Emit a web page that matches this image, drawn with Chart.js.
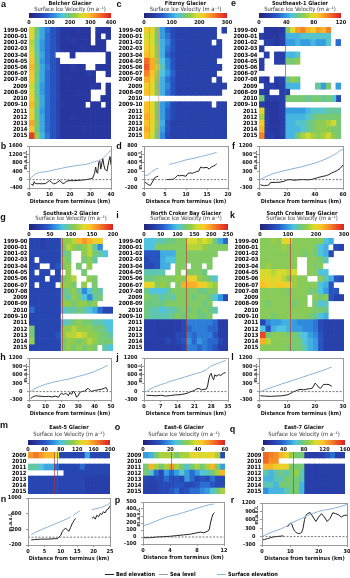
<!DOCTYPE html>
<html>
<head>
<meta charset="utf-8">
<script src="https://cdn.jsdelivr.net/npm/chart.js@4.4.1/dist/chart.umd.min.js"></script>
<style>
    body { margin: 0; background: #fff; }
    #Lienzo { position: relative; width: 350px; height: 578px; overflow: hidden; background: #fff;
              font-family: 'Liberation Sans Narrow', 'DejaVu Sans Condensed', 'Liberation Sans', sans-serif; }
    canvas { position: absolute; }
    .txt { position: absolute; white-space: nowrap; line-height: 1; transform: translate(-50%, -50%); color: #111; }
    .letra { font-family: 'Liberation Sans', Arial, sans-serif; font-weight: bold; font-size: 9px; }
    .titulo { font-weight: bold; font-size: 5.6px; }
    .sub { font-size: 5.8px; color: #333; }
    .masl { font-weight: bold; font-size: 5px; transform: translate(-50%, -50%) rotate(-90deg); }
    .leyenda { position: absolute; top: 571px; font-weight: bold; font-size: 5.6px; line-height: 6px; white-space: nowrap; }
    .leyenda span { display: inline-block; width: 9px; height: 1px; vertical-align: middle; margin-right: 2px; }
</style>
</head>
<body>
<div id="Lienzo"></div>
<script>
const _ = null;

const Filas18 = ['1999-00', '2000-01', '2001-02', '2002-03', '2003-04', '2004-05', '2005-06', '2006-07', '2007-08',
    '2009', '2008-09', '2010', '2009-10', '2011', '2012', '2013', '2014', '2015'];
const Filas7 = ['2009', '2010', '2011', '2012', '2013', '2014', '2015'];

const Glaciares = ['Belcher Glacier', 'Fitzroy Glacier', 'Southeast-1 Glacier', 'Southeast-2 Glacier',
    'North Croker Bay Glacier', 'South Croker Bay Glacier', 'East-5 Glacier', 'East-6 Glacier', 'East-7 Glacier'];
const VelMax = [400, 300, 120, 200, 250, 300, 200, 60, 160];
const VelPaso = [100, 100, 40, 50, 50, 100, 40, 20, 40];
const LineasRojas = [[5.1], [1.0, 2.7], [5.0], [6.2], [8.0], [5.8], [5.1, 5.6], [5.4], [5.8]];

// velocidad superficial (m a-1), una fila por periodo, 16 tramos desde el frente
const VelBelcher = [
    [260, 190, 140, 110, 80, 60, 45, 40, 40, 45, 40, 40, _, 45, 40, 40],
    [270, 180, 140, 100, 80, 60, 40, 45, 40, 40, 40, 40, _, 40, _, 40],
    [240, 170, 130, 100, 80, 55, 40, 40, 45, 40, 40, 40, _, 40, 40, _],
    [250, 170, 130, 100, 80, 60, 40, 40, 40, 40, 45, 40, 40, 40, 40, _],
    [270, 180, 140, 100, 80, _, _, _, 40, _, _, _, _, _, _, 40],
    [290, 190, 130, 100, 80, 60, _, _, _, _, _, _, _, _, _, 40],
    [300, 200, 140, 110, 80, 60, 40, 40, 50, 40, 40, _, _, 40, 40, 40],
    [290, 190, 140, 100, 80, 60, 40, 40, 40, 40, 40, 45, 40, _, _, 40],
    [280, 190, 140, 100, 80, 60, 40, 45, 40, 40, 40, 40, 40, _, _, _],
    [250, 180, 130, 100, 80, 60, 40, 40, 40, 40, 40, 40, 45, 40, _, 40],
    [260, 180, 130, 100, 80, 60, 40, 40, 40, 45, 40, 40, _, _, _, 40],
    [280, 190, 140, 100, 80, 60, 40, 40, 40, 40, 40, 40, _, _, 40, 40],
    [300, 200, 140, 100, 80, 60, 45, 40, 40, 40, 40, _, 40, 40, _, 40],
    [270, 180, 130, 100, 80, 60, 40, 40, 40, 40, 40, 40, 40, 40, 40, 40],
    [280, 190, 140, 100, 80, 60, 40, 40, 45, 40, 40, 40, 40, 40, 40, 40],
    [310, 200, 140, 100, 80, 60, 40, 40, 40, 40, 40, 40, 40, 40, 40, 40],
    [290, 190, 140, 100, 80, 60, 40, 40, 40, 40, 45, 40, 40, 40, 40, 40],
    [380, 220, 150, 110, 80, 60, 40, 40, 40, 40, 40, 40, 40, 40, 40, 40]
];
const VelFitzroy = [
    [210, 200, 150, 100, 70, 50, 40, 40, 40, 40, 40, 40, 40, 40, _, 40],
    [190, 190, 150, 100, 80, 50, 40, 40, 40, 40, 40, 40, 40, 40, _, _],
    [200, 190, 150, 110, 90, 60, 40, 40, 40, 40, 40, 40, 40, _, 40, _],
    [210, 200, 160, 110, 80, 60, 40, 40, 40, 40, 40, 40, 40, 40, 40, _],
    [220, 200, 160, 110, 70, 50, 40, 40, 40, 40, 40, 40, 40, 40, 40, _],
    [260, 230, 170, 120, 90, 60, 40, 40, 40, 40, 40, 40, 40, 40, _, _],
    [270, 230, 180, 130, 90, 60, 40, 40, 40, 40, 40, 40, 40, 40, 40, _],
    [250, 220, 170, 120, 100, 70, 40, 40, 40, 40, 40, 40, 40, 40, _, _],
    [230, 210, 160, 110, 80, 60, 40, 40, 40, 40, 40, 40, 40, _, 40, _],
    [210, 200, 150, 110, 90, 60, 40, 40, 40, 40, 40, 40, 40, 40, 40, 40],
    [220, 200, 160, 110, 80, 60, 40, 40, 40, 40, 40, 40, 40, 40, 40, _],
    [_, _, _, _, _, _, _, _, _, _, _, _, _, _, _, _],
    [220, 200, 150, 100, 80, 50, 40, 40, 40, 40, 40, 40, 40, _, 40, 40],
    [220, 200, 150, 100, 70, 50, 40, 40, 40, 40, 40, 40, 40, 40, 40, 40],
    [230, 210, 150, 100, 70, 50, 40, 40, 40, 40, 40, 40, 40, 40, 40, 40],
    [220, 200, 160, 110, 60, 40, 40, 40, 40, 40, 40, 40, 40, 40, 40, 40],
    [230, 200, 150, 100, 60, 40, 40, 40, 40, 40, 40, 40, 40, 40, 40, 40],
    [220, 190, 140, 90, 50, 40, 40, 40, 40, 40, 40, 40, 40, 40, 40, 40]
];
const VelSureste1 = [
    [_, 12, 12, 12, 12, 60, 80, 95, 100, 90, 85, 95, 90, 100, _, _],
    [15, 12, 12, 12, 15, 45, 45, 45, 50, 50, 50, 50, 50, 50, _, _],
    [_, 15, 15, 12, 15, 40, 40, 45, 40, 40, 45, 40, 40, 50, _, 30],
    [15, _, _, _, _, _, _, _, _, _, _, _, _, _, _, _],
    [_, 15, _, 15, 15, 45, 45, 50, _, _, _, _, _, _, _, _],
    [15, _, _, 15, 15, 60, 60, 65, _, _, _, _, _, _, _, _],
    [15, _, _, _, _, _, _, _, _, _, _, _, _, _, _, _],
    [_, _, _, _, _, _, _, _, _, _, _, _, _, _, _, _],
    [15, 12, _, 15, 15, 55, 65, 60, _, _, _, _, _, _, _, _],
    [_, 15, 15, 12, 15, 45, 45, 45, _, _, _, 55, 40, 60, _, 40],
    [15, 12, _, _, 15, 15, _, _, _, _, _, _, _, _, _, _],
    [60, 15, 15, 15, 15, 60, 60, 60, 60, 55, 60, 60, 55, 60, 50, 20],
    [15, 12, 12, 12, 15, _, _, _, _, _, _, _, _, _, _, _],
    [80, 15, 12, 12, 15, 40, 40, 40, 40, 45, 50, 50, 50, 55, 55, 55],
    [70, 15, 12, 12, 15, 45, 45, 45, 45, 50, 55, 60, 60, 60, 60, 60],
    [85, 15, 12, 12, 15, 45, 45, 50, 50, 55, 60, 65, 65, 70, 75, 60],
    [90, 15, 12, 12, 15, 45, 45, 45, 50, 55, 60, 65, 65, 65, 60, 60],
    [100, 15, 15, 12, 15, 45, 45, 60, 70, 75, 70, 65, 70, 75, 65, 60]
];
const VelSureste2 = [
    [30, 30, 25, 30, 30, 30, 110, 110, 120, 150, 160, 150, 140, 140, _, _],
    [30, 30, 25, 30, 30, 30, 100, 120, 110, 100, 110, 120, 90, 60, _, _],
    [30, 30, 30, 30, 30, 30, 90, 100, _, _, 110, 120, 100, 90, 80, _],
    [30, _, 30, 30, 30, 30, 110, 100, _, _, 100, 110, 90, _, _, _],
    [30, 30, _, _, 30, 40, 100, 110, _, 100, _, 110, _, _, _, _],
    [30, _, 30, 30, _, 30, _, 110, _, _, 100, _, _, _, _, _],
    [30, 30, 30, _, 30, 30, 100, 110, 120, _, _, 110, 100, _, _, _],
    [30, _, 30, 30, 30, _, 110, 110, 100, _, 110, _, 100, _, _, _],
    [30, 30, 30, 30, 30, 30, 90, 100, 110, 90, 60, 80, 100, 90, _, _],
    [30, 30, 30, 30, 30, 30, 100, 90, 110, 100, 80, 60, 90, 100, _, _],
    [30, 30, 30, 30, 30, 30, 110, 110, 100, 110, 110, 100, 110, _, _, _],
    [50, 30, 30, 30, 30, 30, 80, 90, 90, 100, 90, 80, 70, 50, 30, 30],
    [30, 30, 30, 30, 30, 30, _, _, _, _, _, _, _, _, _, _],
    [30, 30, 30, 30, 30, 30, 80, 90, 100, 110, 100, 100, 90, 90, 80, 80],
    [100, 30, 30, 30, 30, 30, 110, 110, 120, 110, 110, 110, 100, 100, 90, 80],
    [100, 30, 30, 30, 30, 40, 110, 120, 120, 130, 120, 110, 110, 100, 100, 90],
    [110, 30, 30, 30, 30, 30, 100, 110, 110, 100, 110, 120, 110, 100, 100, 100],
    [30, 30, 30, 30, 30, 30, 100, 110, 100, 110, 100, 110, 100, _, 90, 80]
];
const VelNorteCroker = [
    [100, 100, 110, 110, 120, 120, 130, 130, 160, 160, 150, 160, 150, 120, 90, 60],
    [100, 100, 130, 130, 130, 130, 130, 130, 150, 150, 150, 140, 130, 130, 130, 130],
    [50, 50, 50, 90, 90, 90, 130, 130, 130, 130, 130, 130, 130, 130, _, _],
    [40, 50, 50, 90, 100, 100, 130, 130, 130, 130, 130, 130, 130, _, _, _],
    [40, 40, 50, 90, 90, _, 130, 130, _, 130, 130, _, 130, _, _, _],
    [110, 110, 110, 110, _, _, 130, _, 130, 130, 130, 120, _, _, _, _],
    [120, 120, 130, 130, 130, 130, 140, 130, 170, 170, 140, 130, 120, 100, _, _],
    [170, 160, 130, 140, 130, _, 130, 190, 190, 190, 180, 170, 150, 140, _, _],
    [120, 100, 100, 100, 110, 130, 130, 130, 130, 130, 120, 120, 130, 130, _, _],
    [130, 120, 120, 110, 120, 110, 130, 130, 130, 120, 130, 130, 120, 100, 80, 40],
    [120, 120, 120, 120, 130, 130, 130, 130, 130, 130, 130, 120, 130, _, _, _],
    [120, 110, 110, 100, 110, 110, 120, 130, 120, 130, 120, 130, 120, 110, _, _],
    [120, 110, 110, 110, 110, 120, 130, 120, 130, 130, 120, 120, 130, _, _, _],
    [30, 30, 30, 30, 30, 30, 30, 40, 70, 70, 70, 70, 70, 60, 30, 30],
    [30, 30, 30, 30, 30, 30, 30, 40, 60, 70, 70, 70, 60, 60, 30, 30],
    [30, 30, 30, 30, 30, 30, 40, 40, 70, 60, 70, 70, 70, 50, 30, 30],
    [30, 30, 30, 30, 40, 30, 40, 50, 80, 60, 80, 70, 60, 60, 40, 30],
    [30, 30, 30, 30, 30, 30, 30, 40, 70, 70, 60, 70, 60, 50, 30, 30]
];
const VelSurCroker = [
    [160, 160, 170, 160, 200, 200, 160, 160, 160, 160, 160, 160, 120, 110, _, _],
    [160, 160, 160, 160, 170, 160, 160, 160, 160, 160, 150, 120, 110, _, 50, 40],
    [160, 160, 160, 160, 160, 160, 160, 160, 150, 160, 150, 120, 110, 50, _, _],
    [160, 160, 160, 160, 160, 160, 160, _, _, 160, 160, 150, 130, _, _, _],
    [160, 170, 160, 160, 160, 160, 160, _, _, 160, 150, 160, _, _, _, _],
    [190, 190, 180, 190, 190, 180, 190, _, _, 160, 160, 120, 120, _, _, _],
    [200, 200, 190, 200, 180, 160, 170, 160, 160, _, _, 160, 130, 110, 60, 50],
    [220, 210, 200, 210, 210, 200, 170, 160, 160, 160, 160, 120, 110, 60, _, _],
    [160, 160, 160, 160, 160, 150, 160, 160, 160, 150, 150, 120, 100, 60, 60, _],
    [160, 160, 160, 160, 160, 160, 160, 160, 160, _, 160, 150, 160, 60, 40, 40],
    [160, 150, 160, 160, 160, 160, 150, 160, 160, _, 150, 120, 130, _, _, _],
    [160, 160, 160, 160, 160, 160, 160, 160, 160, 160, 150, 150, 140, _, _, _],
    [160, 160, 150, 160, 160, 160, 160, 160, 160, 150, 140, 120, 110, _, _, _],
    [50, 90, 100, 100, 110, 110, 100, 90, 90, 90, 80, 50, 40, 40, 40, 40],
    [120, 60, 110, 120, 120, 110, 100, 100, 90, 90, 80, 50, 40, 40, 40, 40],
    [280, 150, 160, 160, 160, 150, 150, 130, 120, 100, 90, 60, 40, 40, 40, 40],
    [230, 180, 160, 160, 160, 160, 150, 150, 120, 110, 100, 60, 40, 40, 40, 40],
    [160, 160, 160, 160, 160, 150, 150, 150, 130, 110, 100, 60, 40, 40, 40, 40]
];
const VelEste5 = [
    [160, 170, 160, 150, 150, 130, 30, 30, 30, 30, 30, 70, 30, 30, 30, 30],
    [_, _, _, _, _, _, _, _, _, _, _, _, _, _, _, _],
    [90, 90, 80, 70, 70, 50, 30, 30, 30, 30, 50, 30, 30, 30, 30, 30],
    [_, _, _, _, _, _, _, 30, 30, 30, 30, 30, 30, 30, 30, 30],
    [30, 30, 30, 30, 30, 30, 30, 30, 30, 30, 30, 25, 25, 25, 25, 25],
    [30, 30, 30, 30, 30, 30, 30, 30, 30, 30, 30, 25, 25, 25, 25, 25],
    [30, 30, 30, 30, 30, 30, 30, 30, 30, 30, 30, 25, 25, 25, 25, 25]
];
const VelEste6 = [
    [20, 22, 30, 35, 35, 35, 30, 35, 35, 40, 40, 38, 40, 40, 35, 10],
    [_, _, _, _, _, _, _, _, _, _, _, _, _, _, _, _],
    [30, 45, 35, 30, 35, 48, 35, 30, 25, 30, 35, 30, 35, 45, 30, 20],
    [30, 25, 15, 10, 20, 15, 20, 25, 20, 15, 20, 25, 25, 30, 35, 45],
    [10, 8, 10, 10, 15, 10, 12, 10, 20, 15, 10, 12, 10, 15, 10, 10],
    [8, 8, 8, 10, 10, 10, 12, 12, 10, 10, 12, 15, 15, 12, 10, 10],
    [8, 8, 8, 10, 10, 12, 15, 10, 12, 15, 15, 18, 20, 25, 30, 35]
];
const VelEste7 = [
    [140, 135, 130, 120, 110, 90, 80, 80, 20, 20, 20, 20, 30, 40, 20, 20],
    [140, 130, 130, _, _, _, _, _, _, _, _, _, _, _, _, _],
    [120, 120, 110, 110, 110, 80, 80, 80, 20, 20, 20, 20, 20, 20, 20, 20],
    [70, 60, 70, 80, 70, 80, 90, 70, 20, 20, 20, 20, 20, 20, 20, 20],
    [60, 60, 70, 70, 80, 80, 80, 70, 20, 20, 20, 20, 20, 20, 20, 20],
    [70, 70, 60, 80, 80, 80, 80, 60, 20, 20, 20, 20, 20, 20, 20, 20],
    [50, 60, 60, 60, 70, 80, 80, 60, 20, 20, 20, 20, 20, 20, 20, 20]
];

// perfiles: distancia desde el frente (km) y elevacion (m s.n.m.)
const DistSupB = [0, 1, 2, 3, 4, 5, 6, 7, 8, 10, 12, 14, 16, 18, 20, 22, 24, 26, 28, 30, 31, 32, 33, 34, 35, 36, 37, 38, 39, 40];
const ElevSupB = [0, 80, 180, 260, 300, 330, 350, 360, 380, 410, 460, 500, 540, 580, 620, 650, 680, 700, 730, 780, 820, 850, 880, 900, 950, 1000, 1100, 1200, 1300, 1420];
const DistLechoB = [1, 1.5, 2, 2.5, 3, 4, 5, 6, 8, 9, 10, 11, 12, 13, 14, 15, 16, 17, 18, 19, 20, 22, 24, 26, 28, 30, 31, 32, 32.5, 33, 33.5, 34, 34.5, 35, 36, 36.5, 37, 38, 39, 39.5, 40];
const ElevLechoB = [-200, -250, -270, -100, -180, -200, -190, -200, -190, -120, -40, -130, -200, -180, -120, -40, -150, -200, -90, -60, -50, -50, -40, -20, 0, 40, 60, 300, 600, 350, 300, 800, 900, 500, 1000, 700, 500, 400, 900, 1100, 700];

const DistSupD = [0, 0.5, 1, 1.5, 2, 2.5, 3, 3.4, 4.5, 6, 8, 10, 12, 14, 16, 17.3];
const ElevSupD = [100, 100, 110, 150, 200, 230, 260, 270, _, 360, 410, 470, 510, 560, 610, 650];
const DistLechoD = [0, 0.5, 1, 1.5, 2, 2.5, 3, 3.4, 4.5, 5.5, 6.5, 7, 7.5, 8, 8.5, 9, 10, 10.5, 11, 11.5, 12, 12.5, 13, 13.5, 14, 15, 15.5, 16, 16.5, 17, 17.3];
const ElevLechoD = [-50, -80, -120, -140, -60, 40, 70, 80, _, 0, 5, 10, 50, 100, 90, 100, 80, 150, 160, 150, 170, 190, 200, 300, 280, 290, 250, 300, 320, 350, 370];

const DistSupF = [1, 3, 5, 8, 10, 15, 20, 25, 30, 35, 40, 45, 50, 53, 56, 58, 60];
const ElevSupF = [0, 60, 110, 170, 210, 280, 340, 400, 450, 520, 590, 680, 790, 870, 960, 1040, 1080];
const DistLechoF = [1, 2, 3, 4, 5, 6, 7, 8, 10, 12, 15, 18, 20, 22, 25, 28, 30, 32, 35, 38, 40, 42, 45, 48, 50, 52, 54, 56, 58, 60];
const ElevLechoF = [-180, -200, -210, -220, -200, -210, -190, -110, -100, -100, -90, -60, -10, 0, -20, -10, 0, 0, -10, 10, 40, 70, 110, 140, 180, 240, 280, 330, 400, 520];

const DistSupH = [1, 3, 5, 10, 15, 20, 25, 30, 35, 40, 45, 48];
const ElevSupH = [0, 90, 150, 260, 340, 400, 460, 540, 620, 720, 850, 940];
const DistLechoH = [1, 2, 4, 6, 8, 10, 12, 14, 16, 18, 19, 20, 21, 22, 23, 24, 25, 26, 27, 28, 29, 30, 31, 32, 34, 36, 37, 38, 40, 42, 44, 46, 47, 48];
const ElevLechoH = [-250, -200, -150, -160, -170, -180, -170, -190, -160, -200, -100, -50, -120, -60, -80, -150, -30, -100, 20, -50, -200, -150, -30, 0, 20, 120, 60, 0, 40, 60, 80, 120, 150, 30];

const DistSupJ = [1, 2, 4, 7, 9, 11, 14, 17, 20, 22, 24, 26, 28, 30, 32, 34];
const ElevSupJ = [0, 60, 150, 250, 300, 370, 440, 520, 600, 650, 700, 780, 920, 980, 1050, 1110];
const DistLechoJ = [1, 3, 5, 7, 9, 11, 13, 15, 17, 18, 19, 20, 21, 22, 23, 24, 25, 26, 26.5, 27, 27.5, 28, 28.5, 29, 29.5, 30, 31, 32, 33, 34];
const ElevLechoJ = [-130, -140, -150, -130, -160, -140, -120, -110, -80, -60, -20, 10, 40, 100, 110, 60, 80, 90, 200, 450, 600, 650, 500, 420, 600, 550, 600, 580, 650, 680];

const DistSupL = [0.5, 2, 4, 6, 8, 10, 12, 14, 16, 18, 20, 22, 24, 26];
const ElevSupL = [0, 60, 130, 200, 270, 330, 400, 460, 530, 600, 660, 730, 800, 880];
const DistLechoL = [0.5, 2, 4, 6, 8, 10, 11, 12, 13, 14, 15, 16, 17, 18, 19, 19.5, 20, 20.5, 21, 21.5, 22, 23, 24, 25, 26];
const ElevLechoL = [-150, -160, -170, -160, -150, -120, -80, -20, 20, 60, 80, 60, 90, 100, 120, 200, 300, 260, 200, 130, 120, 250, 260, 250, 190];

const DistSupN = [1, 2, 4, 6, 8, 10, 12, 13, 13.4, 13.8, 14.5, 15.2, 15.8, 17, 19.5, 20.5, 21.5, 22.5, 23.5, 24.3, 25];
const ElevSupN = [60, 110, 190, 260, 330, 400, 470, 520, _, 560, 600, 640, 670, _, 700, 720, 740, 760, 800, 830, 880];
const DistLechoN = [1, 2, 4, 6, 8, 9, 10, 10.5, 11, 11.5, 12, 12.5, 13, 13.5, 14, 14.5, 17, 19.5, 20, 20.5, 21, 21.5, 22, 22.5, 23, 23.5, 24, 24.5, 25];
const ElevLechoN = [-70, -60, -50, -50, -40, -40, 50, 150, 200, 230, 180, 150, 250, 350, 420, 480, _, 480, 520, 460, 560, 520, 600, 580, 650, 620, 700, 720, 800];

const DistSupP = [0, 1, 2, 3, 4, 5, 6, 7, 8, 9, 10, 10.5];
const ElevSupP = [160, 190, 230, 270, 300, 320, 350, 380, 410, 440, 465, 470];
const DistLechoP = [0, 1, 2, 3, 4, 5, 6, 7, 8, 8.5, 9, 9.5, 9.8, 10, 10.2, 10.4, 10.6];
const ElevLechoP = [-10, -10, 0, 5, 10, 20, 30, 40, 60, 70, 60, 80, 100, 200, 280, 330, 350];

const DistSupR = [0, 2, 4, 6, 7, 8, 9, 10, 12, 14, 16, 18, 20, 22, 24, 26, 28, 30];
const ElevSupR = [0, 100, 180, 250, 290, 340, 400, 470, 560, 650, 750, 830, 900, 950, 980, 1030, 1080, 1150];
const DistLechoR = [0, 1, 2, 3, 4, 5, 6, 7, 7.5, 8.2, 9, 9.5, 10, 10.5, 11, 11.5, 12, 12.5, 13, 13.5, 14, 14.5, 15, 15.5, 16, 17, 18, 19, 20, 21, 22, 23, 24, 25, 26, 27, 28, 29, 30];
const ElevLechoR = [-120, -100, -70, -40, -10, 0, 10, 20, 30, _, 350, 420, 480, 450, 300, 200, 150, 120, 110, 120, 150, 300, 600, 750, 820, 860, 700, 540, 700, 820, 700, 540, 650, 850, 820, 780, 700, 760, 760];

const EjeXPerfil = [[0, 40, 10], [0, 20, 5], [0, 60, 20], [0, 50, 10], [0, 35, 7], [0, 30, 10], [0, 25, 5], [0, 12, 4], [0, 30, 10]];
const EjeYPerfil = [[-400, 1600, 400], [-200, 800, 200], [-300, 1200, 300], [-300, 1200, 300], [-300, 1200, 300],
    [-300, 1200, 300], [-200, 1000, 400], [-100, 500, 100], [-300, 1200, 300]];

const Velocidades = [VelBelcher, VelFitzroy, VelSureste1, VelSureste2, VelNorteCroker, VelSurCroker, VelEste5, VelEste6, VelEste7];
const Perfiles = [
    [DistSupB, ElevSupB, DistLechoB, ElevLechoB], [DistSupD, ElevSupD, DistLechoD, ElevLechoD],
    [DistSupF, ElevSupF, DistLechoF, ElevLechoF], [DistSupH, ElevSupH, DistLechoH, ElevLechoH],
    [DistSupJ, ElevSupJ, DistLechoJ, ElevLechoJ], [DistSupL, ElevSupL, DistLechoL, ElevLechoL],
    [DistSupN, ElevSupN, DistLechoN, ElevLechoN], [DistSupP, ElevSupP, DistLechoP, ElevLechoP],
    [DistSupR, ElevSupR, DistLechoR, ElevLechoR]
];

// posiciones en la figura (px)
const Renglones = [
    { tit: 3.8, sub: 10.4, barraY: 13, barraH: 5, mapaY: 27, mapaH: 112 },
    { tit: 214.3, sub: 219.3, barraY: 224, barraH: 6, mapaY: 238, mapaH: 113 },
    { tit: 428.3, sub: 435, barraY: 440, barraH: 5, mapaY: 452, mapaH: 42 }
];
const Posiciones = [
    { mx: 29, mw: 82, px: 29, py: 146, pw: 82, ph: 42, l1: ['a', 3.5, 4], l2: ['b', 3.5, 145.5], masl: [24.5, 160] },
    { mx: 144, mw: 83, px: 144, py: 146, pw: 84, ph: 42, l1: ['c', 119, 4], l2: ['d', 119, 145.5], masl: [139.5, 160] },
    { mx: 259, mw: 82, px: 259, py: 146, pw: 84, ph: 42, l1: ['e', 233.5, 3], l2: ['f', 233.5, 145.5], masl: [254.5, 160] },
    { mx: 29, mw: 84, px: 29, py: 358, pw: 82, ph: 42, l1: ['g', 3, 217], l2: ['h', 3, 357], masl: [24.5, 372.5] },
    { mx: 144, mw: 84, px: 144, py: 358, pw: 84, ph: 42, l1: ['i', 117.5, 214.5], l2: ['j', 117.5, 356.5], masl: [139.5, 372.5] },
    { mx: 260, mw: 84, px: 259, py: 358, pw: 84, ph: 42, l1: ['k', 232.5, 215], l2: ['l', 232.5, 356.5], masl: [254.5, 372.5] },
    { mx: 28, mw: 82, px: 28, py: 498, pw: 82, ph: 47, l1: ['m', 4, 425], l2: ['n', 3.5, 498.5], masl: [10, 522] },
    { mx: 143, mw: 82, px: 143, py: 502, pw: 81, ph: 42, l1: ['o', 117.5, 427], l2: ['p', 117.5, 499.5], masl: [138, 517] },
    { mx: 263, mw: 82, px: 262, py: 503, pw: 85, ph: 42, l1: ['q', 232.5, 428.5], l2: ['r', 232.5, 499.5], masl: [255.5, 515] }
];

const Fam = "'Liberation Sans Narrow', 'DejaVu Sans Condensed', 'Liberation Sans', sans-serif";
Chart.defaults.font.family = Fam;
const FuenteEje = { family: Fam, size: 5.5, weight: 'bold' };
const FuenteAnio = { family: Fam, size: 5.8, weight: 'bold' };

const PasosJet = [
    [0.00, [32, 36, 120]], [0.10, [40, 55, 160]], [0.22, [40, 90, 200]], [0.32, [50, 150, 225]],
    [0.40, [80, 195, 225]], [0.48, [110, 200, 130]], [0.56, [150, 205, 70]], [0.64, [215, 220, 45]],
    [0.72, [250, 200, 40]], [0.82, [245, 140, 40]], [0.92, [235, 75, 40]], [1.00, [215, 35, 40]]
];

const ColorJet = (f) => {
    f = Math.max(0, Math.min(1, f));
    for (let k = 1; k < PasosJet.length; k++) {
        if (f <= PasosJet[k][0]) {
            const a = PasosJet[k - 1], b = PasosJet[k];
            const t = (f - a[0]) / (b[0] - a[0]);
            const c = a[1].map((v, j) => Math.round(v + (b[1][j] - v) * t));
            return 'rgb(' + c.join(',') + ')';
        }
    }
    return 'rgb(215,35,40)';
};

const Lienzo = document.getElementById('Lienzo');

const NuevoCanvas = (x, y, w, h) => {
    const c = document.createElement('canvas');
    c.width = w; c.height = h;
    c.style.left = x + 'px'; c.style.top = y + 'px';
    c.style.width = w + 'px'; c.style.height = h + 'px';
    Lienzo.appendChild(c);
    return c;
};

const Texto = (txt, x, y, cls) => {
    const d = document.createElement('div');
    d.className = 'txt ' + cls;
    d.textContent = txt;
    d.style.left = x + 'px';
    d.style.top = y + 'px';
    Lienzo.appendChild(d);
};

const LineaRoja = {
    id: 'lineaRoja',
    afterDatasetsDraw(chart, args, opts) {
        const { ctx, chartArea, scales } = chart;
        (opts.pos || []).forEach(p => {
            const x = Math.round(scales.x.getPixelForValue(p)) + 0.5;
            ctx.save();
            ctx.strokeStyle = opts.color;
            ctx.lineWidth = 1;
            ctx.beginPath();
            ctx.moveTo(x, chartArea.top);
            ctx.lineTo(x, chartArea.bottom);
            ctx.stroke();
            ctx.restore();
        });
    }
};

const Marco = {
    id: 'marco',
    afterDraw(chart) {
        const a = chart.chartArea, c = chart.ctx;
        c.save();
        c.strokeStyle = '#9a9a9a';
        c.lineWidth = 1;
        c.strokeRect(Math.round(a.left) + 0.5, Math.round(a.top) + 0.5, Math.round(a.right - a.left), Math.round(a.bottom - a.top));
        c.restore();
    }
};

const InitBarraColor = (i) => {
    const P = Posiciones[i], R = Renglones[Math.floor(i / 3)];
    const ctx = NuevoCanvas(P.mx - 8, R.barraY, P.mw + 16, R.barraH + 9);
    new Chart(ctx, {
        type: 'bar',
        data: {
            labels: [''],
            datasets: [{
                data: [[0, VelMax[i]]],
                backgroundColor: (c) => {
                    const a = c.chart.chartArea;
                    if (!a) return 'rgba(0,0,0,0)';
                    const g = c.chart.ctx.createLinearGradient(a.left, 0, a.right, 0);
                    PasosJet.forEach(s => g.addColorStop(s[0], 'rgb(' + s[1].join(',') + ')'));
                    return g;
                },
                borderWidth: 0,
                barPercentage: 1,
                categoryPercentage: 1
            }]
        },
        options: {
            indexAxis: 'y',
            responsive: false,
            animation: false,
            devicePixelRatio: 1,
            layout: { padding: { left: 8, right: 8, top: 0, bottom: 0 } },
            plugins: { legend: { display: false }, tooltip: { enabled: false } },
            scales: {
                x: {
                    type: 'linear', min: 0, max: VelMax[i],
                    grid: { display: false, drawTicks: false },
                    border: { display: false },
                    ticks: { stepSize: VelPaso[i], autoSkip: false, font: FuenteEje, color: '#111', padding: 1, callback: v => String(v) },
                    afterFit: s => { s.height = 9; }
                },
                y: { display: false }
            }
        }
    });
};

const InitMapa = (i) => {
    const P = Posiciones[i], R = Renglones[Math.floor(i / 3)];
    const Vel = Velocidades[i];
    const Filas = i < 6 ? Filas18 : Filas7;
    const nCol = Vel[0].length;
    const ctx = NuevoCanvas(P.mx - 30, R.mapaY - 6, P.mw + 30, R.mapaH + 12);
    const datasets = [];
    for (let c = 0; c < nCol; c++) {
        datasets.push({
            data: Vel.map(f => f[c] === null ? null : [c, c + 1]),
            backgroundColor: Vel.map(f => f[c] === null ? 'rgba(0,0,0,0)' : ColorJet(f[c] / VelMax[i])),
            borderWidth: 0,
            barPercentage: 1,
            categoryPercentage: 1,
            grouped: false
        });
    }
    new Chart(ctx, {
        type: 'bar',
        data: { labels: Filas, datasets: datasets },
        options: {
            indexAxis: 'y',
            responsive: false,
            animation: false,
            devicePixelRatio: 1,
            layout: { padding: { left: 0, right: 0, top: 6, bottom: 6 } },
            plugins: {
                legend: { display: false },
                tooltip: { enabled: false },
                lineaRoja: { pos: LineasRojas[i], color: i === 1 ? 'rgba(215,130,130,0.5)' : 'rgba(175,55,60,0.65)' }
            },
            scales: {
                x: { type: 'linear', min: 0, max: nCol, display: false },
                y: {
                    type: 'category',
                    grid: { display: false, drawTicks: false },
                    border: { display: false },
                    ticks: { autoSkip: false, font: FuenteAnio, color: '#000', padding: 1.5 },
                    afterFit: s => { s.width = 30; }
                }
            }
        },
        plugins: [LineaRoja]
    });
};

const Puntos = (Dist, Elev) => Dist.map((x, k) => ({ x: x, y: Elev[k] }));

const InitPerfil = (i) => {
    const P = Posiciones[i];
    const Ex = EjeXPerfil[i], Ey = EjeYPerfil[i], Pr = Perfiles[i];
    const ctx = NuevoCanvas(P.px - 27, P.py - 9, 27 + P.pw + 7, 9 + P.ph + 17);
    new Chart(ctx, {
        type: 'line',
        data: {
            datasets: [{
                label: 'Surface elevation',
                data: Puntos(Pr[0], Pr[1]),
                borderColor: '#8db3d8',
                borderWidth: 1,
                pointRadius: 0,
                spanGaps: false
            }, {
                label: 'Sea level',
                data: [{ x: Ex[0], y: 0 }, { x: Ex[1], y: 0 }],
                borderColor: '#555',
                borderWidth: 0.8,
                borderDash: [2, 1.5],
                pointRadius: 0
            }, {
                label: 'Bed elevation',
                data: Puntos(Pr[2], Pr[3]),
                borderColor: '#222',
                borderWidth: 1,
                pointRadius: 0,
                spanGaps: false
            }]
        },
        options: {
            responsive: false,
            animation: false,
            devicePixelRatio: 1,
            layout: { padding: { left: 0, right: 7, top: 9, bottom: 0 } },
            plugins: { legend: { display: false }, tooltip: { enabled: false } },
            elements: { line: { tension: 0 } },
            scales: {
                x: {
                    type: 'linear', min: Ex[0], max: Ex[1],
                    grid: { display: true, drawOnChartArea: false, tickLength: 2, color: '#999' },
                    border: { color: '#999' },
                    ticks: { stepSize: Ex[2], autoSkip: false, font: FuenteEje, color: '#111', padding: 1.5, maxRotation: 0, callback: v => String(v) },
                    title: { display: true, text: 'Distance from terminus (km)', font: FuenteEje, color: '#111', padding: 0 },
                    afterFit: s => { s.height = 17; }
                },
                y: {
                    type: 'linear', min: Ey[0], max: Ey[1],
                    grid: { display: true, drawOnChartArea: false, tickLength: 2, color: '#999' },
                    border: { color: '#999' },
                    ticks: { stepSize: Ey[2], autoSkip: false, font: FuenteEje, color: '#111', padding: 4.5, callback: v => String(v) },
                    afterFit: s => { s.width = 27; }
                }
            }
        },
        plugins: [Marco]
    });
};

const InitTextos = (i) => {
    const P = Posiciones[i], R = Renglones[Math.floor(i / 3)];
    const cx = P.mx + P.mw / 2;
    Texto(Glaciares[i], cx, R.tit, 'titulo');
    Texto('Surface Ice Velocity (m a\u207B\u00B9)', cx, R.sub, 'sub');
    Texto(P.l1[0], P.l1[1], P.l1[2], 'letra');
    Texto(P.l2[0], P.l2[1], P.l2[2], 'letra');
    Texto('m.a.s.l.', P.masl[0], P.masl[1], 'masl');
};

const InitLeyenda = () => {
    const Items = [['Bed elevation', '#222', 105], ['Sea level', '#999', 159], ['Surface elevation', '#8db3d8', 217]];
    Items.forEach(it => {
        const d = document.createElement('div');
        d.className = 'leyenda';
        d.style.left = it[2] + 'px';
        d.innerHTML = '<span style="background:' + it[1] + '"></span>' + it[0];
        Lienzo.appendChild(d);
    });
};

const Init = () => {
    for (let i = 0; i < 9; i++) {
        InitBarraColor(i);
        InitMapa(i);
        InitPerfil(i);
        InitTextos(i);
    }
    InitLeyenda();
};

Init();
</script>
</body>
</html>
